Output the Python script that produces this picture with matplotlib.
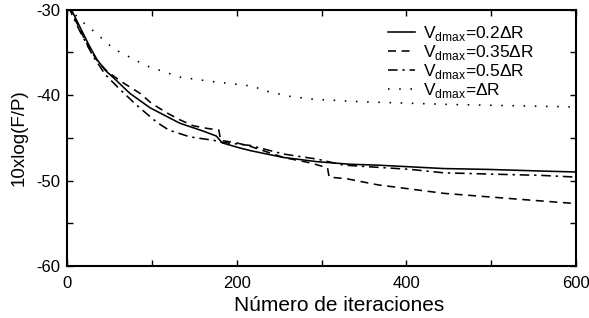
import matplotlib
matplotlib.use("Agg")
import matplotlib.pyplot as plt
from matplotlib.ticker import MultipleLocator

plt.rcParams['font.family'] = ['Liberation Sans', 'DejaVu Sans']
plt.rcParams['mathtext.fontset'] = 'custom'
plt.rcParams['mathtext.rm'] = 'Liberation Sans'
plt.rcParams['axes.unicode_minus'] = False

labels = [r'V$_{\mathregular{dmax}}$=0.2ΔR', r'V$_{\mathregular{dmax}}$=0.35ΔR',
          r'V$_{\mathregular{dmax}}$=0.5ΔR', r'V$_{\mathregular{dmax}}$=ΔR']

it_02 = [2, 5, 15, 25, 35, 45, 55, 74, 98, 133, 160, 176, 183, 204, 216, 255, 295, 334, 366, 444, 496, 562, 600]
v_02 = [-29.6, -30.0, -32.0, -34.0, -35.8, -37.1, -38.0, -39.8, -41.5, -43.3, -44.2, -44.8, -45.6, -46.2, -46.5, -47.3, -47.8, -48.1, -48.2, -48.6, -48.7, -48.9, -49.0]

it_035 = [2, 5, 15, 25, 35, 45, 51, 65, 86, 100, 118, 133, 149, 165, 179, 181, 200, 216, 255, 285, 307, 309, 330, 366, 444, 547, 600]
v_035 = [-29.6, -30.2, -32.3, -34.3, -35.9, -37.0, -37.5, -38.5, -39.8, -41.0, -42.1, -42.9, -43.6, -43.9, -44.1, -45.3, -45.6, -46.0, -47.3, -47.9, -48.5, -49.6, -49.8, -50.5, -51.5, -52.3, -52.7]

it_05 = [2, 5, 15, 25, 31, 45, 63, 80, 94, 106, 120, 145, 173, 180, 216, 255, 295, 326, 405, 444, 519, 559, 600]
v_05 = [-29.6, -30.4, -32.5, -34.4, -35.5, -37.6, -39.4, -41.0, -42.2, -43.2, -44.1, -44.9, -45.3, -45.5, -45.9, -46.9, -47.5, -48.2, -48.7, -49.1, -49.3, -49.4, -49.6]

it_1 = [2, 13, 31, 55, 94, 133, 169, 196, 222, 228, 242, 265, 291, 350, 450, 550, 600]
v_1 = [-29.6, -31.0, -32.5, -34.6, -36.6, -37.9, -38.4, -38.7, -39.0, -39.4, -39.7, -40.2, -40.5, -40.8, -41.1, -41.3, -41.4]

fig = plt.figure(figsize=(5.89, 3.18), dpi=100)
ax = fig.add_axes([0.1138, 0.1635, 0.8642, 0.8065])

lw = 1.15
ax.plot(it_02, v_02, color='black', lw=lw, ls='-', label=labels[0])
ax.plot(it_035, v_035, color='black', lw=lw, ls=(0, (5, 3.5)), label=labels[1])
ax.plot(it_05, v_05, color='black', lw=lw, ls=(0, (6, 3, 1.5, 3)), label=labels[2])
ax.plot(it_1, v_1, color='black', lw=lw, ls=(0, (1, 6)), label=labels[3])

ax.set_xlim(0, 600)
ax.set_ylim(-60, -30)
ax.xaxis.set_major_locator(MultipleLocator(200))
ax.xaxis.set_minor_locator(MultipleLocator(100))
ax.yaxis.set_major_locator(MultipleLocator(10))
ax.yaxis.set_minor_locator(MultipleLocator(5))
ax.tick_params(which='both', direction='in', top=True, right=True, labelsize=12, width=1.0, length=4)
ax.tick_params(axis='x', which='both', pad=7)
ax.tick_params(axis='y', which='both', pad=5)
for s in ax.spines.values():
    s.set_linewidth(1.5)

ax.set_xlabel('Número de iteraciones', fontsize=15)
ax.xaxis.set_label_coords(0.534, -0.115)
ax.set_ylabel('10xlog(F/P)', fontsize=13.5, labelpad=6)

leg = ax.legend(loc='upper left', frameon=False, fontsize=12.5, handlelength=1.6,
                handletextpad=0.45, labelspacing=0.0, borderpad=0, borderaxespad=0,
                bbox_to_anchor=(0.63, 0.943))

fig.savefig('out.png', dpi=100)
